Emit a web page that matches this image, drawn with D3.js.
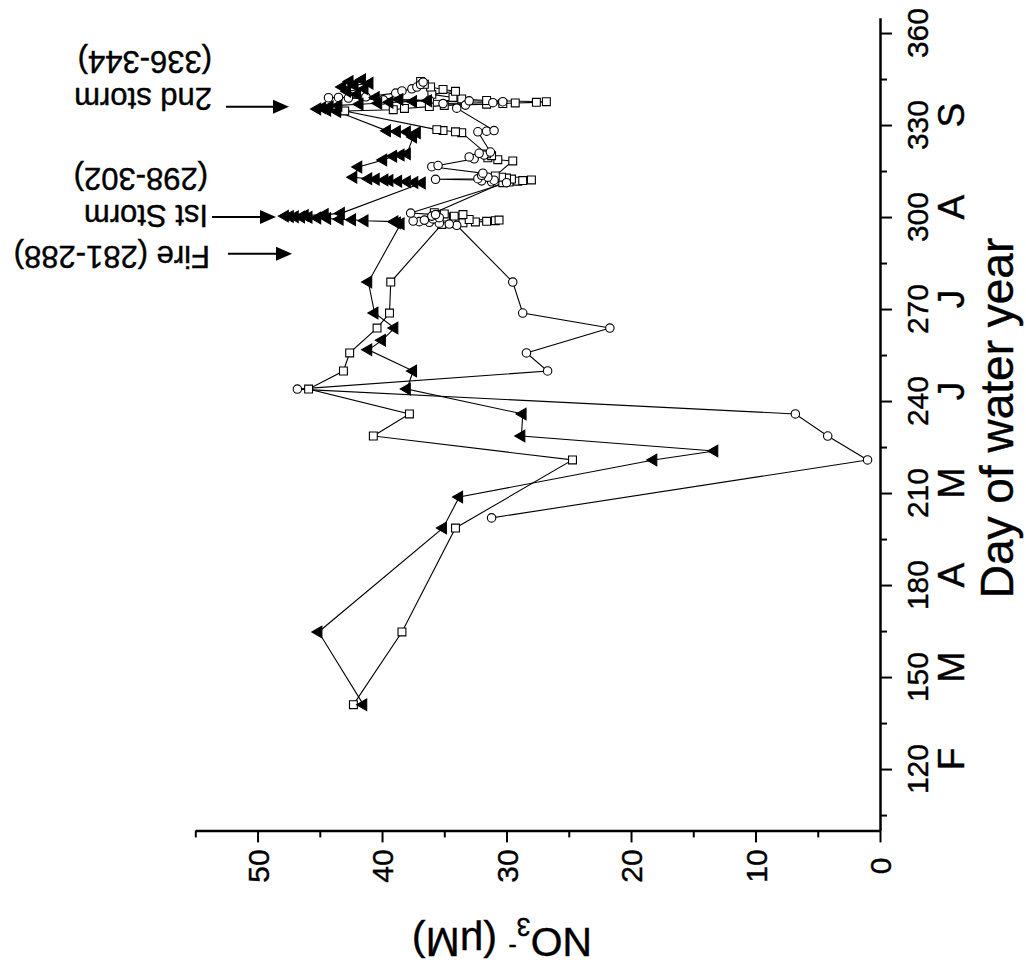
<!DOCTYPE html>
<html>
<head>
<meta charset="utf-8">
<script src="https://cdn.jsdelivr.net/npm/d3@7"></script>
<style>
body{margin:0;background:#fff;}
text{font-family:"Liberation Sans",Arial,Helvetica,sans-serif;fill:#000;}
</style>
</head>
<body>
<div id="chart"></div>
<script>
// ---- data ----
// day of water year / NO3- (uM), one pair of arrays per series
var sqDay = [141.0,164.7,198.6,220.8,228.6,235.8,243.9,249.8,255.7,263.8,268.7,278.8,
  297.6,297.9,298.1,298.4,298.6,298.8,299.0,299.2,299.4,299.7,300.0,300.3,300.6,300.8,301.0,301.4,
  311.2,311.4,311.7,311.9,312.1,312.4,312.7,313.0,313.4,
  318.3,318.7,319.3,320.0,320.6,
  327.5,327.8,328.2,328.5,
  334.6,335.0,335.4,336.0,336.4,336.8,337.0,337.2,337.4,337.6,338.0,338.5,339.0,340.0,341.0,341.6,342.4,343.3,344.2];
var sqNO3 = [42.3,38.4,34.1,24.7,40.7,37.8,45.9,43.1,42.6,40.4,39.4,39.3,
  35.2,34.4,33.5,32.5,31.6,30.9,30.6,33.0,34.8,35.6,34.9,34.2,35.4,33.5,35.0,35.8,
  30.3,29.8,29.1,28.7,28.0,29.6,30.0,30.4,30.9,
  29.5,30.7,31.5,31.2,31.6,
  33.6,34.1,35.1,35.6,
  43.0,39.1,38.2,36.2,35.0,31.6,30.3,29.3,27.6,26.8,31.6,33.6,34.3,36.0,34.1,35.1,36.1,36.6,36.9];

var cirDay = [201.9,220.8,228.6,235.8,243.9,249.8,255.7,263.8,268.7,278.8,
  297.3,297.7,298.0,298.3,298.5,298.7,299.0,299.4,299.8,300.3,300.8,301.3,
  311.2,311.5,311.8,312.0,312.3,312.5,313.0,313.6,314.3,
  316.4,316.8,319.0,319.6,320.2,320.8,321.2,
  327.8,328.0,328.2,
  335.5,336.5,337.0,337.3,337.6,337.9,338.1,338.2,338.8,339.0,338.9,339.2,340.4,341.1,341.8,342.4,343.2,344.0];
var cirNO3 = [31.2,1.0,4.2,6.8,46.8,26.7,28.4,21.7,28.7,29.5,
  34.0,34.6,35.4,36.2,37.0,37.5,36.6,35.9,35.4,36.0,35.7,37.7,
  30.0,31.2,32.0,31.0,35.7,32.3,31.5,32.0,31.9,
  36.0,35.5,32.6,33.0,31.8,32.2,31.3,
  32.3,31.6,31.0,
  34.0,33.3,35.1,31.1,30.3,33.0,36.2,39.9,42.7,43.5,44.3,41.3,38.9,38.4,37.6,37.2,36.9,36.7];

var triDay = [141.0,164.7,198.6,208.7,220.8,223.7,228.6,235.8,243.9,249.8,256.7,259.8,263.8,268.7,278.8,
  297.8,298.1,298.5,298.8,299.1,299.3,299.5,299.7,299.9,300.0,300.1,300.2,300.3,300.5,300.8,301.2,
  311.1,311.3,311.5,311.7,311.9,312.1,312.3,312.5,313.0,
  316.3,318.6,319.8,320.2,320.6,
  326.1,327.5,327.7,327.9,328.1,
  334.4,334.8,335.2,335.6,336.0,336.4,336.8,337.1,337.4,337.7,337.9,338.3,339.0,340.0,341.0,341.8,342.4,343.0,343.6,344.2,344.8];
var triNO3 = [41.5,45.1,35.1,33.8,18.2,13.3,28.8,28.7,38.0,37.5,41.1,40.0,39.0,40.6,41.1,
  38.5,38.8,39.0,41.4,42.4,43.4,44.4,45.2,45.9,46.5,47.0,47.4,47.8,46.2,44.6,43.3,
  36.8,37.4,38.0,38.7,39.4,39.8,40.5,41.1,42.3,
  41.9,39.9,39.1,38.5,38.0,
  37.5,37.2,38.0,38.8,39.6,
  43.6,44.4,45.2,44.8,44.2,43.5,41.8,40.3,39.4,37.5,36.3,38.6,40.5,42.0,42.8,41.4,43.2,42.2,41.0,42.6,41.6];

// axis ticks
var dayMajor = [120,150,180,210,240,270,300,330,360];
var dayMinor = [105,135,165,195,225,255,285,315,345];
var no3Major = [0,10,20,30,40,50];
var no3Minor = [5,15,25,35,45,55];
var monthLetters = ["F","M","A","M","J","J","A","S"];
var monthDays = [120,150,180,210,240,270,300,330];

// event annotations
var eventDays = [336,300,288];
var eventLines = [["2nd storm","(336-344)"],["Ist Storm","(298-302)"],["Fire (281-288)"]];

(function(){
    var width = 1026, height = 968;
    var svg = d3.select("#chart").append("svg")
        .attr("width", width).attr("height", height);

    // the figure is drawn turned: days run up the right edge, NO3 runs right-to-left
    var y = d3.scaleLinear().domain([100,365]).range([830.4,17.7]);
    var x = d3.scaleLinear().domain([0,55]).range([880,195.3]);

    function zip(a,b){ return a.map(function(d,i){ return [d,b[i]]; }); }
    var series = [
        {pts: zip(sqDay,sqNO3), sym: d3.symbolSquare, size: 62, fill: "#fff", rot: 0},
        {pts: zip(cirDay,cirNO3), sym: d3.symbolCircle, size: 56, fill: "#fff", rot: 0},
        {pts: zip(triDay,triNO3), sym: d3.symbolTriangle, size: 58, fill: "#000", rot: -90}
    ];

    var line = d3.line().x(function(d){ return x(d[1]); }).y(function(d){ return y(d[0]); });

    //lines first, then symbols on top
    series.forEach(function(s){
        svg.append("path").datum(s.pts)
            .attr("d", line).attr("fill","none")
            .attr("stroke","#000").attr("stroke-width",1.1);
    });
    series.forEach(function(s){
        svg.append("g").selectAll("path").data(s.pts).enter().append("path")
            .attr("d", d3.symbol().type(s.sym).size(s.size))
            .attr("transform", function(d){ return "translate(" + x(d[1]) + "," + y(d[0]) + ") rotate(" + s.rot + ")"; })
            .attr("fill", s.fill).attr("stroke","#000").attr("stroke-width",1.1);
    });

    // day axis (right side) - ticks from d3, labels drawn separately (turned)
    var dayAxis = svg.append("g").attr("transform","translate(880,0)")
        .call(d3.axisRight(y).tickValues(dayMajor).tickSize(12).tickSizeOuter(0).tickFormat(""));
    svg.append("g").attr("transform","translate(880,0)")
        .call(d3.axisRight(y).tickValues(dayMinor).tickSize(7).tickSizeOuter(0).tickFormat(""))
        .call(function(g){ g.select(".domain").remove(); })
        .selectAll("line").attr("stroke-width",2);
    dayAxis.select(".domain").attr("stroke-width",2.5);
    dayAxis.selectAll(".tick line").attr("stroke-width",2);
    svg.append("g").selectAll("text").data(dayMajor).enter().append("text")
        .attr("transform", function(d){ return "translate(928," + y(d) + ") rotate(-90)"; })
        .attr("text-anchor","middle")
        .attr("font-size", 30).style("font-size","30px")
        .attr("stroke","#000").attr("stroke-width",0.4)
        .text(function(d){ return d; });

    // NO3 axis (bottom)
    var no3Axis = svg.append("g").attr("transform","translate(0,830.4)")
        .call(d3.axisBottom(x).tickValues(no3Major).tickSize(12).tickSizeOuter(0).tickFormat(""));
    svg.append("g").attr("transform","translate(0,830.4)")
        .call(d3.axisBottom(x).tickValues(no3Minor).tickSize(7).tickSizeOuter(0).tickFormat(""))
        .call(function(g){ g.select(".domain").remove(); })
        .selectAll("line").attr("stroke-width",2);
    no3Axis.select(".domain").attr("stroke-width",2.5);
    no3Axis.selectAll(".tick line").attr("stroke-width",2);
    svg.append("g").selectAll("text").data(no3Major).enter().append("text")
        .attr("transform", function(d){ return "translate(" + (x(d) + 11) + ",866) rotate(-90)"; })
        .attr("text-anchor","middle")
        .attr("font-size", 30).style("font-size","30px")
        .attr("stroke","#000").attr("stroke-width",0.4)
        .text(function(d){ return d; });

    // month letters
    svg.append("g").selectAll("text").data(monthLetters).enter().append("text")
        .attr("transform", function(d,i){ return "translate(964," + (y(monthDays[i]) - 10) + ") rotate(-90)"; })
        .attr("text-anchor","middle")
        .style("font-size","37px")
        .attr("stroke","#000").attr("stroke-width",0.4)
        .text(function(d){ return d; });

    // axis titles
    svg.append("text")
        .attr("transform","translate(1013,418) rotate(-90)")
        .attr("text-anchor","middle")
        .style("font-size","46px")
        .attr("stroke","#000").attr("stroke-width",0.4)
        .text("Day of water year");

    var t = svg.append("text")
        .attr("transform","translate(502,928) rotate(180)")
        .attr("text-anchor","middle")
        .style("font-size","41px")
        .attr("stroke","#000").attr("stroke-width",0.4);
    t.append("tspan").text("NO");
    t.append("tspan").attr("dy",10).style("font-size","25px").text("3");
    t.append("tspan").attr("dy",-21).style("font-size","25px").text("-");
    t.append("tspan").attr("dy",11).text(" (\u03bcM)");

    // event arrows + labels
    var arrowX = [[226,289],[212,276],[228,292]];
    var textRight = [212,208,210];
    var baseOff = [[-18.6,-55.6],[-12,-49],[-8]];
    eventDays.forEach(function(d,i){
        var ay = y(d), x0 = arrowX[i][0], x1 = arrowX[i][1];
        svg.append("line").attr("x1",x0).attr("x2",x1-12).attr("y1",ay).attr("y2",ay)
            .attr("stroke","#000").attr("stroke-width",2);
        svg.append("path")
            .attr("d","M" + x1 + "," + ay + "L" + (x1-16) + "," + (ay-7) + "L" + (x1-16) + "," + (ay+7) + "Z")
            .attr("fill","#000");
        eventLines[i].forEach(function(s,j){
            svg.append("text")
                .attr("transform","translate(" + textRight[i] + "," + (ay + baseOff[i][j]) + ") rotate(180)")
                .attr("text-anchor","start")
                .style("font-size","31px")
                .attr("stroke","#000").attr("stroke-width",0.4)
                .text(s);
        });
    });
})();
</script>
</body>
</html>
